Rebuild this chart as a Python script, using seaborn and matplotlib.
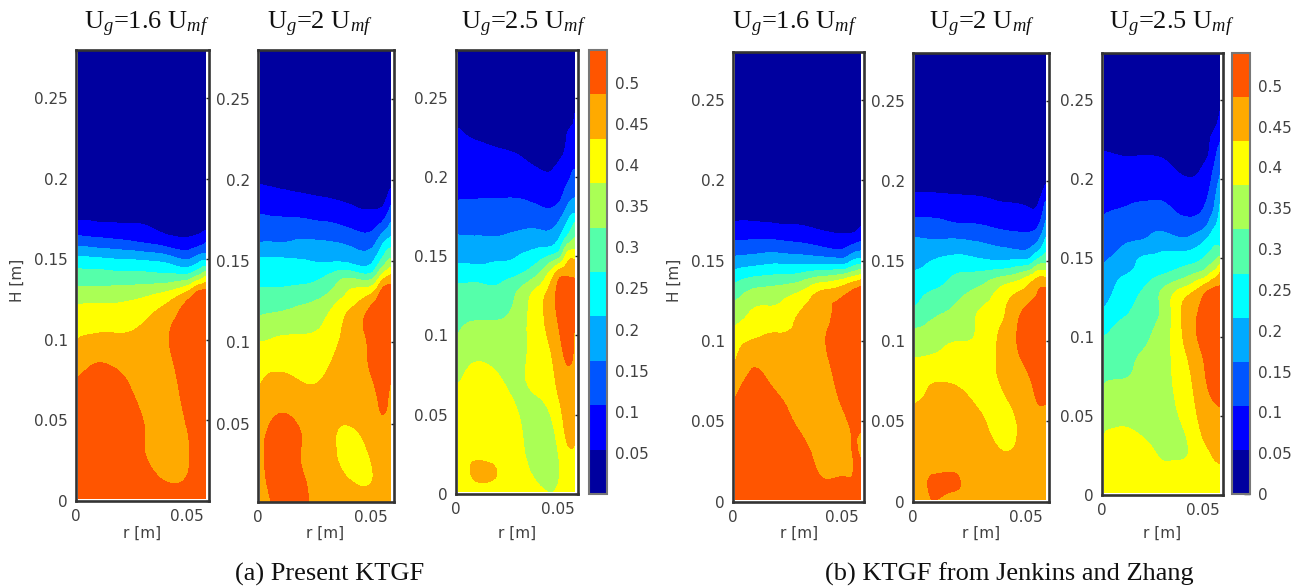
import numpy as np
import seaborn as sns
import matplotlib
matplotlib.use("Agg")
import matplotlib.pyplot as plt
import matplotlib.tri as mtri
from matplotlib.colors import ListedColormap

# Radial positions [m] and heights [m] of the solid fraction readings
r_pos = [0.001, 0.01, 0.02, 0.03, 0.04, 0.05, 0.055, 0.0585]
h_pos = [0.0015, 0.015, 0.03, 0.045, 0.06, 0.075, 0.09, 0.105, 0.12,
         0.13, 0.14, 0.15, 0.16, 0.17, 0.18, 0.19, 0.20, 0.21, 0.22, 0.23, 0.24,
         0.28]

# One list per radial position, bottom to top
present_16 = [
    [.52, .52, .52, .52, .51, .49, .46, .42, .385, .34, .295, .231, .147, .074, .03, .02, .02, .02, .02, .02, .02, .02],
    [.52, .52, .52, .52, .52, .505, .475, .43, .39, .34, .29, .225, .135, .07, .025, .02, .02, .02, .02, .02, .02, .02],
    [.52, .52, .52, .52, .52, .495, .465, .43, .39, .345, .285, .216, .125, .065, .025, .02, .02, .02, .02, .02, .02, .02],
    [.52, .51, .49, .49, .475, .465, .455, .44, .405, .355, .285, .21, .11, .06, .025, .02, .02, .02, .02, .02, .02, .02],
    [.51, .48, .46, .455, .455, .46, .47, .475, .44, .375, .28, .195, .09, .04, .02, .02, .02, .02, .02, .02, .02, .02],
    [.52, .487, .475, .485, .50, .51, .52, .52, .505, .43, .28, .16, .075, .03, .02, .02, .02, .02, .02, .02, .02, .02],
    [.52, .52, .52, .52, .52, .52, .52, .52, .52, .49, .325, .19, .09, .035, .02, .02, .02, .02, .02, .02, .02, .02],
    [.52, .52, .52, .52, .52, .52, .52, .52, .52, .50, .37, .205, .11, .045, .02, .02, .02, .02, .02, .02, .02, .02],
]
present_20 = [
    [.46, .47, .475, .475, .455, .43, .405, .365, .31, .28, .25, .225, .17, .135, .105, .075, .045, .02, .02, .02, .02, .02],
    [.50, .51, .51, .50, .48, .45, .41, .375, .32, .285, .25, .225, .17, .13, .10, .07, .035, .02, .02, .02, .02, .02],
    [.495, .49, .482, .483, .46, .432, .405, .378, .335, .295, .255, .22, .175, .135, .095, .06, .03, .02, .02, .02, .02, .02],
    [.46, .46, .46, .455, .45, .44, .42, .395, .365, .32, .275, .21, .17, .125, .09, .05, .025, .02, .02, .02, .02, .02],
    [.46, .435, .40, .42, .455, .46, .46, .45, .43, .385, .32, .205, .16, .11, .07, .04, .02, .02, .02, .02, .02, .02],
    [.46, .43, .44, .465, .47, .48, .495, .505, .50, .43, .305, .205, .15, .10, .06, .025, .02, .02, .02, .02, .02, .02],
    [.46, .46, .465, .475, .49, .50, .51, .52, .52, .51, .41, .29, .22, .14, .075, .03, .02, .02, .02, .02, .02, .02],
    [.46, .46, .46, .465, .475, .485, .505, .52, .52, .51, .45, .34, .255, .185, .13, .08, .03, .02, .02, .02, .02, .02],
]
present_25 = [
    [.40, .40, .40, .40, .395, .37, .345, .318, .295, .277, .24, .195, .17, .142, .12, .098, .088, .078, .068, .056, .02, .02],
    [.41, .44, .41, .40, .395, .39, .365, .335, .30, .28, .24, .195, .17, .14, .12, .10, .09, .08, .06, .04, .02, .02],
    [.41, .432, .41, .40, .395, .38, .365, .335, .30, .275, .24, .205, .17, .145, .125, .10, .09, .075, .05, .03, .02, .02],
    [.40, .40, .39, .382, .375, .37, .36, .35, .335, .315, .255, .215, .18, .15, .125, .10, .085, .065, .04, .025, .02, .02],
    [.395, .36, .35, .36, .375, .395, .40, .41, .41, .38, .31, .245, .19, .15, .115, .09, .07, .04, .02, .02, .02, .02],
    [.385, .37, .38, .40, .425, .445, .46, .48, .50, .495, .44, .30, .215, .165, .12, .085, .07, .05, .02, .02, .02, .02],
    [.40, .40, .43, .45, .46, .475, .50, .51, .52, .51, .47, .405, .30, .23, .175, .13, .10, .085, .065, .05, .02, .02],
    [.40, .40, .43, .445, .455, .465, .475, .485, .505, .51, .47, .41, .335, .28, .195, .15, .12, .095, .08, .065, .054, .02],
]
jenkins_16 = [
    [.50, .50, .49, .495, .49, .465, .425, .395, .34, .30, .245, .18, .12, .075, .03, .02, .02, .02, .02, .02, .02, .02],
    [.52, .52, .52, .52, .52, .50, .47, .42, .38, .34, .27, .19, .125, .075, .03, .02, .02, .02, .02, .02, .02, .02],
    [.52, .52, .52, .52, .505, .47, .455, .432, .385, .35, .28, .20, .125, .07, .025, .02, .02, .02, .02, .02, .02, .02],
    [.52, .52, .52, .485, .465, .455, .45, .445, .425, .38, .29, .195, .115, .065, .025, .02, .02, .02, .02, .02, .02, .02],
    [.51, .487, .465, .455, .455, .46, .47, .475, .465, .44, .325, .19, .10, .05, .025, .02, .02, .02, .02, .02, .02, .02],
    [.52, .487, .47, .47, .488, .505, .52, .52, .50, .47, .35, .18, .09, .04, .02, .02, .02, .02, .02, .02, .02, .02],
    [.52, .488, .487, .49, .505, .52, .52, .52, .52, .50, .38, .22, .11, .04, .02, .02, .02, .02, .02, .02, .02, .02],
    [.52, .52, .48, .49, .52, .52, .52, .52, .52, .52, .40, .235, .125, .06, .02, .02, .02, .02, .02, .02, .02, .02],
]
jenkins_20 = [
    [.46, .46, .46, .46, .435, .405, .378, .335, .275, .25, .23, .20, .18, .14, .10, .065, .03, .02, .02, .02, .02, .02],
    [.487, .49, .46, .46, .45, .43, .385, .35, .31, .28, .245, .22, .18, .13, .10, .065, .03, .02, .02, .02, .02, .02],
    [.47, .487, .46, .455, .45, .425, .40, .365, .335, .31, .28, .235, .185, .125, .09, .06, .025, .02, .02, .02, .02, .02],
    [.45, .45, .45, .445, .425, .41, .40, .39, .38, .345, .295, .225, .17, .12, .085, .055, .025, .02, .02, .02, .02, .02],
    [.45, .45, .435, .41, .42, .44, .45, .445, .425, .405, .33, .22, .155, .105, .07, .045, .02, .02, .02, .02, .02, .02],
    [.455, .455, .455, .455, .46, .475, .50, .52, .495, .45, .378, .23, .145, .10, .065, .04, .02, .02, .02, .02, .02, .02],
    [.455, .455, .46, .47, .484, .50, .51, .52, .52, .487, .43, .29, .18, .115, .07, .04, .02, .02, .02, .02, .02, .02],
    [.455, .455, .46, .47, .485, .50, .51, .52, .52, .50, .43, .31, .245, .185, .145, .095, .045, .02, .02, .02, .02, .02],
]
jenkins_25 = [
    [.38, .385, .38, .37, .34, .315, .295, .26, .212, .195, .17, .156, .137, .12, .103, .09, .078, .065, .05, .03, .02, .02],
    [.40, .40, .40, .375, .355, .32, .30, .285, .25, .235, .21, .18, .155, .133, .112, .098, .087, .066, .04, .02, .02, .02],
    [.40, .40, .39, .365, .35, .34, .326, .305, .285, .27, .24, .22, .17, .143, .12, .10, .08, .064, .04, .02, .02, .02],
    [.395, .385, .37, .365, .36, .36, .355, .345, .335, .327, .268, .23, .19, .15, .12, .10, .08, .062, .035, .02, .02, .02],
    [.40, .39, .37, .38, .395, .405, .42, .435, .435, .39, .30, .24, .18, .13, .10, .08, .06, .035, .02, .02, .02, .02],
    [.40, .40, .42, .445, .46, .475, .49, .51, .495, .46, .345, .27, .215, .15, .11, .09, .07, .05, .02, .02, .02, .02],
    [.41, .42, .44, .46, .486, .505, .52, .52, .515, .495, .395, .305, .255, .205, .16, .138, .118, .098, .08, .053, .02, .02],
    [.41, .425, .45, .475, .49, .505, .52, .52, .515, .495, .44, .335, .255, .24, .225, .20, .17, .14, .115, .09, .062, .02],
]

band_colors = ["#00009F", "#0000FF", "#0055FF", "#00AAFF", "#00FFFF",
               "#55FFAA", "#AAFF55", "#FFFF00", "#FFAA00", "#FF5500"]
band_edges = np.linspace(0, 0.54, 11)
y_ticks = [0, 0.05, 0.1, 0.15, 0.2, 0.25]
cbar_ticks = [0.05, 0.1, 0.15, 0.2, 0.25, 0.3, 0.35, 0.4, 0.45, 0.5]

W, H = 1301, 587
sns.set_theme(style="white")
plt.rcParams["font.family"] = "DejaVu Sans"
plt.rcParams["mathtext.fontset"] = "custom"
plt.rcParams["mathtext.rm"] = "Liberation Serif"
plt.rcParams["mathtext.it"] = "Liberation Serif:italic"
grey = "#404040"
cmap = ListedColormap(sns.color_palette(band_colors))

fig = plt.figure(figsize=(W / 100, H / 100), dpi=100)

# Triangles over the reading grid, so the contour edges come out smooth
rr, hh = np.meshgrid(r_pos, h_pos)
n_r, n_h = len(r_pos), len(h_pos)
cells = []
for j in range(n_h - 1):
    for i in range(n_r - 1):
        a = j * n_r + i
        cells.append([a, a + 1, a + n_r])
        cells.append([a + 1, a + n_r + 1, a + n_r])
grid = mtri.Triangulation(rr.ravel(), hh.ravel(), cells)
refiner = mtri.UniformTriRefiner(grid)


def box(x0, y0, x1, y1):
    return fig.add_axes([x0 / W, 1 - y1 / H, (x1 - x0) / W, (y1 - y0) / H])


def panel(values, frame, ymin, title, title_x, label_x, first_tick=True):
    ax = box(*frame)
    z = np.array(values).T.ravel()
    fine_grid, fine_z = refiner.refine_field(z, subdiv=3)
    cs = ax.tricontourf(fine_grid, np.clip(fine_z, 0.005, 0.535), levels=band_edges, cmap=cmap)
    ax.set_xlim(0, 0.06)
    ax.set_ylim(ymin, 0.28)
    ax.set_xticks([0, 0.05], ["0", "0.05"])
    ticks = y_ticks if first_tick else y_ticks[1:]
    ax.set_yticks(ticks, [f"{t:g}" for t in ticks])
    ax.tick_params(direction="in", length=2.5, width=1, top=True, right=True,
                   color="#222222", labelcolor=grey, labelsize=11, pad=6)
    for s in ax.spines.values():
        s.set_linewidth(1.9)
        s.set_color("#333333")
    fig.text(title_x / W, 1 - 29 / H, title, family="Liberation Serif", fontsize=19,
             ha="center", va="baseline", color="#111111")
    fig.text(label_x / W, 1 - 533 / H, "r [m]", fontsize=11, color=grey, ha="center", va="center")
    return cs


cs = panel(present_16, (76, 50, 209, 501), 0, r"U$_{g}$=1.6 U$_{mf}$", 147, 142)
panel(present_20, (258, 50, 394, 501.5), 0.002, r"U$_{g}$=2 U$_{mf}$", 320, 325, first_tick=False)
panel(present_25, (456, 50, 578, 494), 0, r"U$_{g}$=2.5 U$_{mf}$", 524, 517)
panel(jenkins_16, (733, 52, 864, 501.5), 0, r"U$_{g}$=1.6 U$_{mf}$", 795, 799)
panel(jenkins_20, (913, 53, 1049, 501.5), 0, r"U$_{g}$=2 U$_{mf}$", 982, 981)
panel(jenkins_25, (1102, 53, 1223, 495), 0, r"U$_{g}$=2.5 U$_{mf}$", 1172, 1162)

for frame, ticks in [((589, 50, 607, 494), cbar_ticks), ((1232, 53, 1250, 494), [0] + cbar_ticks)]:
    cax = box(*frame)
    cb = fig.colorbar(cs, cax=cax, ticks=ticks)
    cb.ax.set_yticklabels([f"{t:g}" for t in ticks])
    cb.ax.tick_params(direction="in", length=4, width=1, color="#222222",
                      labelcolor=grey, labelsize=11, pad=6)
    cb.outline.set_linewidth(1.5)
    cb.outline.set_edgecolor("#777777")

for x, y in [(17, 280), (674, 280)]:
    fig.text(x / W, 1 - y / H, "H [m]", rotation=90, fontsize=11, color=grey, ha="center", va="center")

fig.text(330 / W, 1 - 581 / H, "(a) Present KTGF", family="Liberation Serif", fontsize=19,
         ha="center", va="baseline", color="#111111")
fig.text(1009 / W, 1 - 581 / H, "(b) KTGF from Jenkins and Zhang", family="Liberation Serif", fontsize=19,
         ha="center", va="baseline", color="#111111")

fig.savefig("out.png", dpi=100)
